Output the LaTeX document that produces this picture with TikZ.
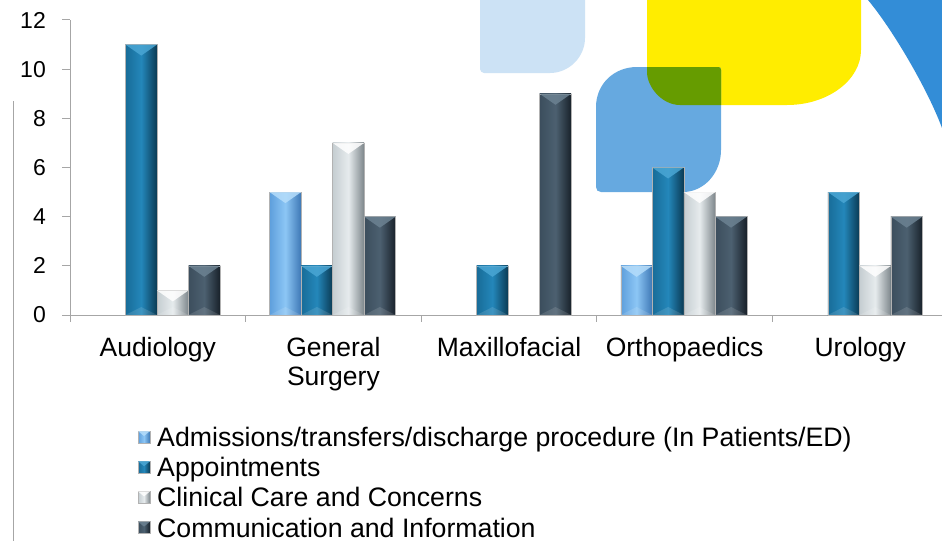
\documentclass[tikz,border=0pt]{standalone}
\usepackage{fontspec}
\setmainfont{Liberation Sans}
\usepackage{xcolor}
\usepackage{tikz}

% backdrop colours
\definecolor{paleblue}{HTML}{CCE2F5}
\definecolor{midblue}{HTML}{66A9E0}
\definecolor{sunyellow}{HTML}{FFED00}
\definecolor{leafgreen}{HTML}{669C00}
\definecolor{arcblue}{HTML}{338DD7}
\definecolor{axisgray}{HTML}{A6A6A6}

% series colours: left, middle, right, top facet
\definecolor{ser0-left}{HTML}{5E9FDC}\definecolor{ser0-mid}{HTML}{8CC6F5}
\definecolor{ser0-right}{HTML}{3D78B5}\definecolor{ser0-top}{HTML}{B5DDFB}
\definecolor{ser1-left}{HTML}{186C98}\definecolor{ser1-mid}{HTML}{2487BA}
\definecolor{ser1-right}{HTML}{0A3A54}\definecolor{ser1-top}{HTML}{4AA6D4}
\definecolor{ser2-left}{HTML}{C5CDD1}\definecolor{ser2-mid}{HTML}{E6EBED}
\definecolor{ser2-right}{HTML}{7D868B}\definecolor{ser2-top}{HTML}{FFFFFF}
\definecolor{ser3-left}{HTML}{3C4E5D}\definecolor{ser3-mid}{HTML}{4C6070}
\definecolor{ser3-right}{HTML}{18212A}\definecolor{ser3-top}{HTML}{6C8292}

% outlines of the two overlapping tiles
\newcommand{\yellowpath}{(647,0) -- (861,0) -- (861,50)
  .. controls (861,80) and (828,105) .. (787,105) -- (680,105)
  .. controls (662,105) and (647,87) .. (647,72) -- cycle}
\newcommand{\bluepath}{(637,67) -- (718,67)
  .. controls (720,67) and (721,68) .. (721,70) -- (721,150)
  .. controls (721,173) and (704,192) .. (683,192) -- (601,192)
  .. controls (598,192) and (596,190) .. (596,187) -- (596,107)
  .. controls (596,84) and (614,67) .. (637,67) -- cycle}

% one bevelled bar: left x, value, series
\newcommand{\chartbar}[3]{%
  \pgfmathsetmacro{\bartop}{315-24.583*#2}
  \shadedraw[left color=ser#3-left, right color=ser#3-right, middle color=ser#3-mid,
    draw=gray!60, line width=0.5pt] (#1,315) rectangle (#1+31.5,\bartop);
  \fill[ser#3-top, opacity=0.85] (#1,\bartop) -- (#1+31.5,\bartop) -- (#1+15.75,\bartop+11) -- cycle;
  \fill[white, opacity=0.12] (#1,315) -- (#1+31.5,315) -- (#1+15.75,307) -- cycle;
}

\begin{document}
\begin{tikzpicture}[x=1pt, y=-1pt,
    ticklabel/.style={font=\fontsize{23}{27}\selectfont, anchor=east, inner sep=0pt},
    catlabel/.style={font=\fontsize{26.5}{29}\selectfont, anchor=north, align=center, inner sep=0pt},
    legtext/.style={font=\fontsize{26.7}{30}\selectfont, anchor=base west, inner sep=0pt},
    axisline/.style={axisgray, line width=1pt}]
  \useasboundingbox (0,0) rectangle (942,541);
  \fill[white] (0,0) rectangle (942,541);

  % Tiles in the background
  \fill[paleblue] (480,0) -- (585,0) -- (585,38) .. controls (585,57) and (569,73) .. (550,73)
    -- (484,73) .. controls (482,73) and (480,71) .. (480,69) -- cycle;
  \fill[sunyellow] \yellowpath;
  \fill[midblue] \bluepath;
  \begin{scope}
    \clip \yellowpath;
    \fill[leafgreen] \bluepath;
  \end{scope}
  \fill[arcblue] (868,0) .. controls (893,30) and (928,90) .. (942,128) -- (942,0) -- cycle;

  % Thin rule on the left
  \draw[axisline] (13,101) -- (13,541);

  % Axes with ticks
  \draw[axisline] (70,20) -- (70,322);
  \draw[axisline] (70,315) -- (942,315);
  \foreach \t in {0,...,6} {
    \draw[axisline] (62,315-49.17*\t) -- (70,315-49.17*\t);
    \node[ticklabel] (ytick\t) at (46,315-49.17*\t) {\pgfmathparse{int(2*\t)}\pgfmathresult};
  }
  \foreach \k in {1,...,4} {
    \draw[axisline] (70+175.6*\k,315) -- ++(0,7);
  }

  % Bars per department
  \foreach \vals [count=\k from 0] in {{0,11,1,2},{5,2,7,4},{0,2,0,9},{2,6,5,4},{0,5,2,4}} {
    \foreach \v [count=\i from 0] in \vals {
      \ifnum\v>0
        \pgfmathsetmacro{\bx}{70+175.6*\k+24+31.5*\i}
        \chartbar{\bx}{\v}{\i}
      \fi
    }
  }

  % Department names
  \foreach \name [count=\k from 0] in {Audiology,{General\\Surgery},Maxillofacial,Orthopaedics,Urology} {
    \node[catlabel] (cat\k) at (157.8+175.6*\k,337) {\name};
  }

  % Legend
  \foreach \lab [count=\i from 0] in {Admissions/transfers/discharge procedure (In Patients/ED),
      Appointments,Clinical Care and Concerns,Communication and Information} {
    \pgfmathsetmacro{\ly}{437+30.2*\i}
    \shadedraw[left color=ser\i-left, right color=ser\i-right, middle color=ser\i-mid,
      draw=gray!60, line width=0.4pt] (138,\ly-6) rectangle (150,\ly+6);
    \fill[ser\i-top, opacity=0.85] (138,\ly-6) -- (150,\ly-6) -- (144,\ly-1) -- cycle;
    \node[legtext] (leg\i) at (157,\ly+9.5) {\lab};
  }
\end{tikzpicture}
\end{document}
